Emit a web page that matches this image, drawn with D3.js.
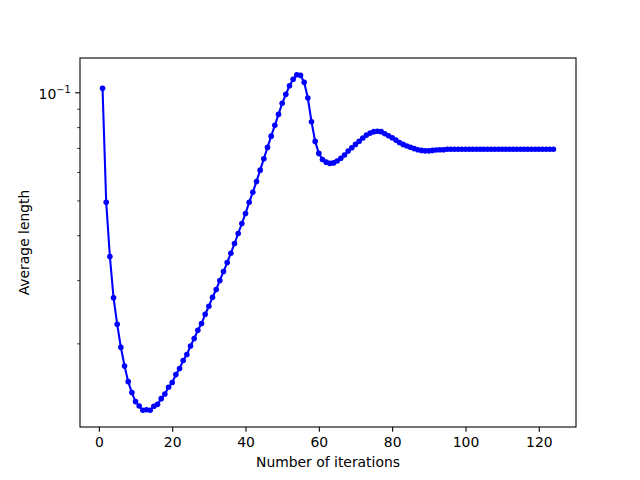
<!DOCTYPE html>
<html>
<head>
<meta charset="utf-8">
<script src="https://cdn.jsdelivr.net/npm/d3@7"></script>
<style>
  html, body { margin: 0; padding: 0; background: #fff; }
  svg { display: block; }
  text { font-family: "DejaVu Sans", sans-serif; fill: #000; }
</style>
</head>
<body>
<svg id="chart" width="640" height="480"></svg>
<script>
// Average length per iteration (iteration = index + 1)
const avgLength = [
  0.1026, 0.0494, 0.0349, 0.0268, 0.0226, 0.0195, 0.0173, 0.01565, 0.01459, 0.01377,
  0.01338, 0.01302, 0.01307, 0.01302, 0.01336, 0.01353, 0.01403, 0.01445, 0.01509, 0.01556,
  0.01637, 0.01702, 0.01792, 0.01862, 0.01967, 0.02063, 0.02176, 0.02271, 0.02410, 0.02537,
  0.02689, 0.02825, 0.02993, 0.03170, 0.03358, 0.03565, 0.03793, 0.04045, 0.04313, 0.04600,
  0.0494, 0.05271, 0.05647, 0.06072, 0.06531, 0.07025, 0.0755, 0.0809, 0.0868, 0.0932,
  0.0987, 0.1043, 0.1087, 0.1119, 0.1115, 0.1066, 0.0964, 0.0828, 0.0730, 0.0676,
  0.0650, 0.0639, 0.0634, 0.0636, 0.0644, 0.0655, 0.0669, 0.0686, 0.0701, 0.0716,
  0.0731, 0.0746, 0.0760, 0.0770, 0.0777, 0.0779, 0.0777, 0.0767, 0.0757, 0.0747,
  0.0736, 0.0725, 0.0716, 0.0709, 0.0703, 0.0697, 0.0692, 0.0689, 0.0687, 0.0687,
  0.0689, 0.0691, 0.0692, 0.0692, 0.0694, 0.0694, 0.0694, 0.0694, 0.0694, 0.0694,
  0.0694, 0.0694, 0.0694, 0.0694, 0.0694, 0.0694, 0.0694, 0.0694, 0.0694, 0.0694,
  0.0694, 0.0694, 0.0694, 0.0694, 0.0694, 0.0694, 0.0694, 0.0694, 0.0694, 0.0694,
  0.0694, 0.0694, 0.0694, 0.0694
];
const xTicks = [0, 20, 40, 60, 80, 100, 120];
const yMajorTicks = [0.1];
const yMinorTicks = [0.02, 0.03, 0.04, 0.05, 0.06, 0.07, 0.08, 0.09];
const xLabel = "Number of iterations";
const yLabel = "Average length";

const data = avgLength.map((v, i) => ({ it: i + 1, v }));

const L = 80, R = 576, T = 58, B = 427;
const svg = d3.select("#chart");

const x = d3.scaleLinear().domain([-5.15, 130.15]).range([L, R]);
const y = d3.scaleLog().domain([0.01170, 0.1246]).range([B, T]);

const fs = 13.9;
const majorLen = 4.86, minorLen = 2.78, pad = 4.86;

// X axis
const xAxis = d3.axisBottom(x).tickValues(xTicks).tickFormat(d3.format("d"))
  .tickSizeInner(majorLen).tickSizeOuter(0).tickPadding(pad);
const gx = svg.append("g").attr("transform", `translate(0,${B})`).call(xAxis);
gx.select(".domain").remove();
gx.selectAll("line").attr("stroke", "#000").attr("stroke-width", 1.1);
gx.selectAll("text").attr("font-size", fs).attr("font-family", "DejaVu Sans").attr("fill", "#000");

// Y axis minor ticks
const gyMinor = svg.append("g").attr("transform", `translate(${L},0)`)
  .call(d3.axisLeft(y).tickValues(yMinorTicks).tickFormat("").tickSizeInner(minorLen).tickSizeOuter(0));
gyMinor.select(".domain").remove();
gyMinor.selectAll("line").attr("stroke", "#000").attr("stroke-width", 0.8);

// Y axis major ticks
const gy = svg.append("g").attr("transform", `translate(${L},0)`)
  .call(d3.axisLeft(y).tickValues(yMajorTicks).tickFormat("").tickSizeInner(majorLen).tickSizeOuter(0));
gy.select(".domain").remove();
gy.selectAll("line").attr("stroke", "#000").attr("stroke-width", 1.1);
gy.selectAll(".tick text").remove();
yMajorTicks.forEach(t => {
  const exp = Math.round(Math.log10(t));
  const tx = svg.append("text")
    .attr("x", L - majorLen - pad + 0.3)
    .attr("y", y(t) + 7)
    .attr("text-anchor", "end")
    .attr("font-size", fs);
  tx.append("tspan").text("10");
  tx.append("tspan").attr("dy", -6.3).attr("font-size", 9.7).text("\u2212" + Math.abs(exp));
});

// Line
svg.append("path")
  .datum(data)
  .attr("fill", "none")
  .attr("stroke", "#0000ff")
  .attr("stroke-width", 2.08)
  .attr("stroke-linejoin", "round")
  .attr("stroke-linecap", "square")
  .attr("d", d3.line().x(d => x(d.it)).y(d => y(d.v)));

// Markers
svg.append("g").selectAll("circle")
  .data(data)
  .join("circle")
  .attr("cx", d => x(d.it))
  .attr("cy", d => y(d.v))
  .attr("r", 2.8)
  .attr("fill", "#0000ff");

// Frame
svg.append("rect")
  .attr("x", L).attr("y", T)
  .attr("width", R - L).attr("height", B - T)
  .attr("fill", "none").attr("stroke", "#000").attr("stroke-width", 1.1);

// Axis labels
svg.append("text")
  .attr("x", (L + R) / 2).attr("y", 466.5)
  .attr("text-anchor", "middle").attr("font-size", fs)
  .text(xLabel);

svg.append("text")
  .attr("transform", `translate(28.5,${(T + B) / 2}) rotate(-90)`)
  .attr("text-anchor", "middle").attr("font-size", fs)
  .text(yLabel);
</script>
</body>
</html>
